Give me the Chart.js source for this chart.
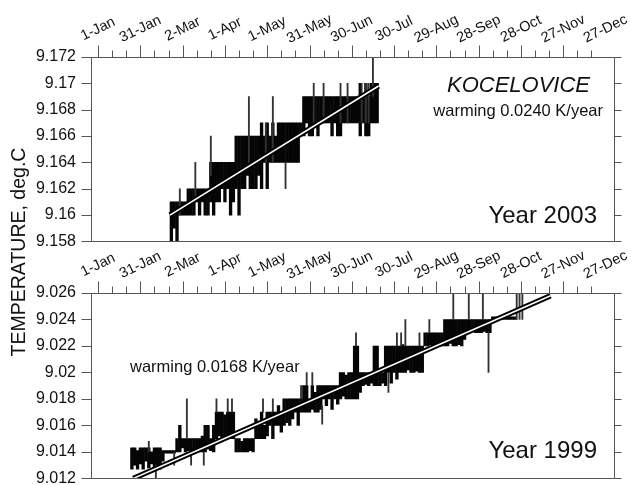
<!DOCTYPE html>
<html>
<head>
<meta charset="utf-8">
<script src="https://cdn.jsdelivr.net/npm/chart.js@4.4.1/dist/chart.umd.min.js"></script>
<style>
html, body { margin: 0; padding: 0; background: #fff; }
#wrap { position: relative; width: 633px; height: 485px; overflow: hidden; }
canvas { position: absolute; left: 0; }
#c1 { top: 0; }
#c2 { top: 236px; }
#ytitle {
    position: absolute; left: -113.5px; top: 241.5px; width: 260px; height: 20px;
    line-height: 20px; text-align: center; transform: rotate(-90deg);
    font: 19.5px "Liberation Sans", Arial, sans-serif; color: #111; white-space: nowrap;
}
</style>
</head>
<body>
<div id="wrap">
<canvas id="c1" width="633" height="266"></canvas>
<canvas id="c2" width="633" height="267"></canvas>
<div id="ytitle">TEMPERATURE, deg.C</div>
</div>
<script>
// top axis: day of year and its date label
const tickDays = [0, 30, 60, 90, 120, 150, 180, 210, 240, 270, 300, 330, 360];
const tickLabels = ['1-Jan', '31-Jan', '2-Mar', '1-Apr', '1-May', '31-May', '30-Jun', '30-Jul', '29-Aug', '28-Sep', '28-Oct', '27-Nov', '27-Dec'];

// Year 2003: 2-day ranges of the readings (deg C)
const days03 = [52,54,56,58,60,62,64,66,68,70,72,74,76,78,80,82,84,86,88,90,92,94,96,98,100,102,104,106,108,110,112,114,116,118,120,122,124,126,128,130,132,134,136,138,140,142,144,146,148,150,152,154,156,158,160,162,164,166,168,170,172,174,176,178,180,182,184,186,188,190,192,194,196,198];
const lo03 = [9.158,9.159,9.158,9.160,9.160,9.160,9.160,9.160,9.160,9.161,9.160,9.161,9.160,9.160,9.161,9.160,9.161,9.161,9.162,9.161,9.162,9.160,9.161,9.162,9.160,9.162,9.162,9.163,9.162,9.162,9.162,9.163,9.162,9.164,9.162,9.164,9.164,9.164,9.164,9.164,9.164,9.164,9.164,9.164,9.164,9.164,9.166,9.166,9.167,9.166,9.166,9.167,9.166,9.167,9.167,9.167,9.167,9.166,9.167,9.166,9.166,9.167,9.167,9.167,9.167,9.167,9.167,9.166,9.167,9.166,9.166,9.167,9.167,9.167];
const hi03 = [9.161,9.161,9.161,9.161,9.161,9.161,9.162,9.162,9.162,9.162,9.162,9.162,9.162,9.162,9.164,9.164,9.164,9.164,9.164,9.164,9.164,9.164,9.164,9.166,9.166,9.166,9.166,9.166,9.166,9.166,9.166,9.166,9.167,9.166,9.167,9.166,9.167,9.166,9.167,9.167,9.167,9.167,9.167,9.167,9.167,9.167,9.167,9.169,9.169,9.169,9.169,9.169,9.169,9.169,9.169,9.169,9.169,9.169,9.169,9.169,9.169,9.169,9.169,9.169,9.169,9.169,9.169,9.170,9.169,9.170,9.169,9.170,9.170,9.170];
const spikeDays03 = [58, 69, 80, 107, 119, 124, 133, 153, 160, 172, 177, 187, 190, 192, 195];
const spikeLo03 = [9.160, 9.161, 9.163, 9.164, 9.164, 9.164, 9.162, 9.167, 9.167, 9.167, 9.167, 9.167, 9.167, 9.167, 9.169];
const spikeHi03 = [9.162, 9.164, 9.166, 9.169, 9.167, 9.169, 9.164, 9.170, 9.170, 9.170, 9.170, 9.170, 9.170, 9.170, 9.172];
const trendDays03 = [51, 199];
const trendTemp03 = [9.1600, 9.1698];

// Year 1999
const days99 = [24,26,28,30,32,34,36,38,40,42,44,46,48,50,52,54,56,58,60,62,64,66,68,70,72,74,76,78,80,82,84,86,88,90,92,94,96,98,100,102,104,106,108,110,112,114,116,118,120,122,124,126,128,130,132,134,136,138,140,142,144,146,148,150,152,154,156,158,160,162,164,166,168,170,172,174,176,178,180,182,184,186,188,190,192,194,196,198,200,202,204,206,208,210,212,214,216,218,220,222,224,226,228,230,232,234,236,238,240,242,244,246,248,250,252,254,256,258,260,262,264,266,268,270,272,274,276,278,280,282,284,286,288,290,292,294,296];
const lo99 = [9.0127,9.0130,9.0127,9.0131,9.0127,9.0133,9.0128,9.0131,9.0127,9.0130,9.0127,9.0133,9.0139,9.0139,9.0139,9.0139,9.0140,9.0140,9.0143,9.0140,9.0141,9.0140,9.0140,9.0141,9.0140,9.0140,9.0140,9.0142,9.0141,9.0140,9.0150,9.0152,9.0150,9.0150,9.0152,9.0150,9.0150,9.0140,9.0140,9.0140,9.0140,9.0140,9.0141,9.0140,9.0150,9.0150,9.0150,9.0150,9.0152,9.0160,9.0150,9.0160,9.0160,9.0155,9.0160,9.0162,9.0160,9.0165,9.0170,9.0160,9.0170,9.0170,9.0170,9.0170,9.0172,9.0170,9.0170,9.0172,9.0180,9.0175,9.0180,9.0172,9.0180,9.0176,9.0180,9.0182,9.0180,9.0180,9.0180,9.0180,9.0180,9.0185,9.0190,9.0191,9.0190,9.0192,9.0190,9.0190,9.0190,9.0192,9.0190,9.0200,9.0192,9.0200,9.0195,9.0200,9.0200,9.0200,9.0202,9.0200,9.0200,9.0201,9.0200,9.0200,9.0220,9.0220,9.0221,9.0220,9.0220,9.0222,9.0220,9.0220,9.0220,9.0222,9.0220,9.0220,9.0221,9.0220,9.0225,9.0230,9.0230,9.0231,9.0230,9.0230,9.0230,9.0231,9.0230,9.0230,9.0240,9.0240,9.0240,9.0240,9.0240,9.0240,9.0240,9.0240,9.0240];
const hi99 = [9.0143,9.0143,9.0141,9.0143,9.0143,9.0143,9.0143,9.0140,9.0143,9.0143,9.0143,9.0141,9.0141,9.0141,9.0141,9.0141,9.0150,9.0160,9.0150,9.0150,9.0150,9.0150,9.0150,9.0150,9.0150,9.0152,9.0160,9.0160,9.0150,9.0160,9.0170,9.0170,9.0170,9.0168,9.0170,9.0170,9.0170,9.0150,9.0150,9.0148,9.0150,9.0150,9.0150,9.0150,9.0165,9.0160,9.0170,9.0160,9.0170,9.0170,9.0170,9.0170,9.0175,9.0170,9.0180,9.0180,9.0180,9.0180,9.0180,9.0180,9.0180,9.0190,9.0190,9.0180,9.0190,9.0185,9.0190,9.0190,9.0190,9.0190,9.0190,9.0190,9.0190,9.0190,9.0200,9.0200,9.0198,9.0200,9.0200,9.0220,9.0220,9.0200,9.0200,9.0200,9.0200,9.0200,9.0220,9.0220,9.0200,9.0200,9.0220,9.0220,9.0220,9.0220,9.0220,9.0220,9.0221,9.0220,9.0220,9.0220,9.0220,9.0220,9.0220,9.0220,9.0230,9.0230,9.0230,9.0230,9.0230,9.0230,9.0230,9.0240,9.0240,9.0240,9.0240,9.0240,9.0240,9.0240,9.0240,9.0240,9.0240,9.0240,9.0240,9.0240,9.0240,9.0240,9.0240,9.0240,9.0242,9.0242,9.0242,9.0242,9.0242,9.0242,9.0242,9.0242,9.0242];
const spikeDays99 = [36, 41, 54, 63, 66, 75, 84, 92, 95, 117, 124, 144, 148, 152, 159, 183, 206, 212, 215, 218, 228, 235, 252, 263, 273, 277, 297, 299, 301];
const spikeLo99 = [9.0140,9.0120,9.0130,9.0150,9.0130,9.0130,9.0170,9.0170,9.0170,9.0170,9.0170,9.0180,9.0190,9.0190,9.0161,9.0220,9.0185,9.0220,9.0220,9.0220,9.0220,9.0230,9.0240,9.0240,9.0240,9.0200,9.0240,9.0240,9.0240];
const spikeHi99 = [9.0148,9.0130,9.0140,9.0180,9.0140,9.0140,9.0180,9.0180,9.0180,9.0180,9.0180,9.0190,9.0200,9.0200,9.0175,9.0230,9.0200,9.0230,9.0230,9.0240,9.0230,9.0240,9.0260,9.0260,9.0260,9.0230,9.0260,9.0260,9.0260];
const trendDays99 = [25, 321];
const trendTemp99 = [9.0120, 9.0258];

const FONT = '"Liberation Sans", Arial, sans-serif';
Chart.defaults.font.family = FONT;
Chart.defaults.color = '#111';

// frame, tick marks, date labels and notes
const axisFrame = {
    id: 'axisFrame',
    afterDraw(chart, args, opts) {
        const { ctx, chartArea: a, scales: { x, y } } = chart;
        const L = Math.round(a.left) + 0.5, R = Math.round(a.right) + 0.5;
        const T = Math.round(a.top) + 0.5, B = Math.round(a.bottom) + 0.5;
        ctx.save();
        ctx.strokeStyle = '#555';
        ctx.lineWidth = 1;
        ctx.beginPath();
        ctx.rect(L, T, R - L, B - T);
        // top ticks
        x.ticks.forEach(t => {
            if (t.value % 10 !== 0) return;
            const px = Math.round(x.getPixelForValue(t.value)) + 0.5;
            const len = t.value % 30 === 0 ? 12 : 7;
            ctx.moveTo(px, T);
            ctx.lineTo(px, T - len);
        });
        // left and right ticks
        y.ticks.forEach(t => {
            const py = Math.round(y.getPixelForValue(t.value)) + 0.5;
            const len = t.label !== '' ? 10 : 6;
            ctx.moveTo(L - len, py);
            ctx.lineTo(L, py);
            ctx.moveTo(R, py);
            ctx.lineTo(R + 7, py);
        });
        ctx.stroke();

        // date labels
        ctx.fillStyle = '#111';
        ctx.font = '14.5px ' + FONT;
        ctx.textAlign = 'center';
        ctx.textBaseline = 'middle';
        tickDays.forEach((d, i) => {
            const px = x.getPixelForValue(d);
            ctx.save();
            ctx.translate(px, a.top - 28);
            ctx.rotate(-26 * Math.PI / 180);
            ctx.fillText(tickLabels[i], 0, 0);
            ctx.restore();
        });

        // notes
        ctx.textBaseline = 'alphabetic';
        (opts.notes || []).forEach(n => {
            ctx.font = n.font + ' ' + FONT;
            ctx.textAlign = n.align;
            ctx.fillText(n.text, n.x, n.y);
        });
        ctx.restore();
    }
};

function makeChart(id, cfg) {
    const bins = cfg.days.map((d, i) => ({ x: d, y: [cfg.lo[i], cfg.hi[i]] }));
    const spikes = cfg.spikeDays.map((d, i) => ({ x: d, y: [cfg.spikeLo[i], cfg.spikeHi[i]] }));
    const trend = cfg.trendDays.map((d, i) => ({ x: d, y: cfg.trendTemp[i] }));
    return new Chart(document.getElementById(id), {
        type: 'bar',
        data: {
            datasets: [
                { type: 'line', data: trend, borderColor: '#fff', borderWidth: 1.6, pointRadius: 0, order: 0 },
                { type: 'line', data: trend, borderColor: '#000', borderWidth: 5.5, pointRadius: 0, order: 1 },
                { data: spikes, backgroundColor: '#333', barThickness: 1.2, grouped: false, order: 2 },
                { data: bins, backgroundColor: '#050505', barThickness: 2.7, grouped: false, order: 3 }
            ]
        },
        options: {
            responsive: false,
            animation: false,
            layout: { padding: { left: 0, right: 19, top: 0, bottom: 10 } },
            plugins: {
                legend: { display: false },
                tooltip: { enabled: false },
                axisFrame: { notes: cfg.notes }
            },
            scales: {
                x: {
                    type: 'linear', position: 'top', min: 0, max: 361,
                    ticks: { display: false, stepSize: 10 },
                    grid: { display: false, drawTicks: false },
                    border: { display: false },
                    afterFit: s => { s.height = 57; }
                },
                y: {
                    min: cfg.ymin, max: cfg.ymax,
                    ticks: {
                        stepSize: 0.001, maxTicksLimit: 40, padding: 15,
                        font: { size: 16 }, color: '#111',
                        callback: v => {
                            const k = Math.round(v * 1000);
                            return k % 2 === 0 ? String(Number((k / 1000).toFixed(3))) : '';
                        }
                    },
                    grid: { display: false, drawTicks: false },
                    border: { display: false },
                    afterFit: s => { s.width = 91; }
                }
            }
        },
        plugins: [axisFrame]
    });
}

makeChart('c1', {
    days: days03, lo: lo03, hi: hi03,
    spikeDays: spikeDays03, spikeLo: spikeLo03, spikeHi: spikeHi03,
    trendDays: trendDays03, trendTemp: trendTemp03,
    ymin: 9.158, ymax: 9.172,
    notes: [
        { text: 'KOCELOVICE', x: 590, y: 92, font: 'italic 22px', align: 'right' },
        { text: 'warming 0.0240 K/year', x: 603, y: 116, font: '16.5px', align: 'right' },
        { text: 'Year 2003', x: 597, y: 223, font: '24px', align: 'right' }
    ]
});

makeChart('c2', {
    days: days99, lo: lo99, hi: hi99,
    spikeDays: spikeDays99, spikeLo: spikeLo99, spikeHi: spikeHi99,
    trendDays: trendDays99, trendTemp: trendTemp99,
    ymin: 9.012, ymax: 9.026,
    notes: [
        { text: 'warming 0.0168 K/year', x: 130, y: 136, font: '16.5px', align: 'left' },
        { text: 'Year 1999', x: 597, y: 222, font: '24px', align: 'right' }
    ]
});
</script>
</body>
</html>
